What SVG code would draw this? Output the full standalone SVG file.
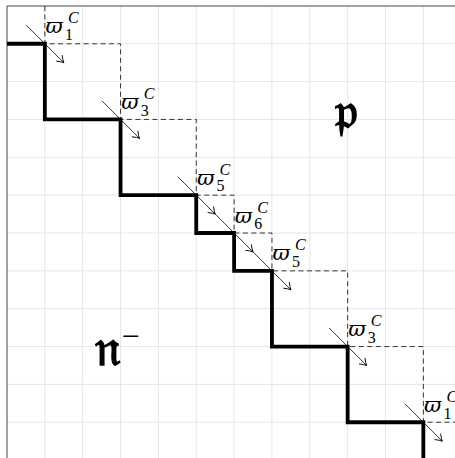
<svg xmlns="http://www.w3.org/2000/svg" width="455" height="458" viewBox="0 0 455 458">
<defs>
<marker id="ah" markerUnits="userSpaceOnUse" markerWidth="12" markerHeight="12" refX="0" refY="0" viewBox="-8 -6 10 12" orient="auto" overflow="visible">
<path d="M-6.5,-4.2 Q-2.5,-1 0,0 Q-2.5,1 -6.5,4.2" fill="none" stroke="#000" stroke-width="0.9"/>
</marker>
</defs>
<style>
.grid line{stroke:#e6e6e6;stroke-width:1}
.frame{stroke:#444;stroke-width:1;fill:none}
.stair{stroke:#000;stroke-width:3.8;fill:none;stroke-linejoin:miter}
.dash{stroke:#222;stroke-width:0.9;fill:none;stroke-dasharray:5 3.5}
.arr{stroke:#000;stroke-width:0.8;fill:none;marker-end:url(#ah)}
.v{font-family:"DejaVu Serif","Liberation Serif",serif;font-style:italic;font-size:21px;fill:#000}
.sub{font-family:"Liberation Serif","DejaVu Serif",serif;font-size:16px;fill:#000}
.sup{font-family:"Liberation Serif","DejaVu Serif",serif;font-style:italic;font-size:16px;fill:#000}
.frak{font-family:"DejaVu Serif","Noto Sans","Liberation Serif",serif;font-size:50px;font-weight:bold;fill:#000}
.minus{font-family:"Liberation Serif","DejaVu Serif",serif;font-size:32px;fill:#000}
</style>
<rect width="455" height="458" fill="#fff"/>
<g class="grid">
<line x1="44.85" y1="6" x2="44.85" y2="458"/>
<line x1="82.7" y1="6" x2="82.7" y2="458"/>
<line x1="120.55" y1="6" x2="120.55" y2="458"/>
<line x1="158.4" y1="6" x2="158.4" y2="458"/>
<line x1="196.25" y1="6" x2="196.25" y2="458"/>
<line x1="234.1" y1="6" x2="234.1" y2="458"/>
<line x1="271.95" y1="6" x2="271.95" y2="458"/>
<line x1="309.8" y1="6" x2="309.8" y2="458"/>
<line x1="347.65" y1="6" x2="347.65" y2="458"/>
<line x1="385.5" y1="6" x2="385.5" y2="458"/>
<line x1="423.35" y1="6" x2="423.35" y2="458"/>
<line x1="7" y1="43.75" x2="455" y2="43.75"/>
<line x1="7" y1="81.6" x2="455" y2="81.6"/>
<line x1="7" y1="119.45" x2="455" y2="119.45"/>
<line x1="7" y1="157.3" x2="455" y2="157.3"/>
<line x1="7" y1="195.15" x2="455" y2="195.15"/>
<line x1="7" y1="233" x2="455" y2="233"/>
<line x1="7" y1="270.85" x2="455" y2="270.85"/>
<line x1="7" y1="308.7" x2="455" y2="308.7"/>
<line x1="7" y1="346.55" x2="455" y2="346.55"/>
<line x1="7" y1="384.4" x2="455" y2="384.4"/>
<line x1="7" y1="422.25" x2="455" y2="422.25"/>
</g>
<path class="frame" d="M7,458 V6 H455"/>
<g id="connectors">
<path class="dash" d="M44.85,6 V43.75 H120.55 V119.45 H196.25 V195.15 H234.1 V233 H271.95 V270.85 H347.65 V346.55 H423.35 V422.25 H455"/>
<path class="stair" d="M7,43.75 H44.85 V119.45 H120.55 V195.15 H196.25 V233 H234.1 V270.85 H271.95 V346.55 H347.65 V422.25 H423.35 V458"/>
<line class="arr" x1="26.3" y1="25.2" x2="63.8" y2="62.7"/>
<line class="arr" x1="102" y1="100.9" x2="139.5" y2="138.4"/>
<line class="arr" x1="177.7" y1="176.6" x2="215.2" y2="214.1"/>
<line class="arr" x1="215.2" y1="214.1" x2="253" y2="251.9"/>
<line class="arr" x1="253" y1="251.9" x2="290.9" y2="289.8"/>
<line class="arr" x1="329.1" y1="328" x2="366.6" y2="365.5"/>
<line class="arr" x1="404.8" y1="403.7" x2="442.3" y2="441.2"/>
</g>
<g id="label-w1a"><text class="v" x="45.5" y="33.3">ϖ</text><text class="sub" x="65" y="40">1</text><text class="sup" x="68" y="23.3">C</text></g>
<g id="label-w3a"><text class="v" x="121.2" y="109">ϖ</text><text class="sub" x="140.7" y="115.7">3</text><text class="sup" x="143.7" y="99">C</text></g>
<g id="label-w5a"><text class="v" x="196.9" y="184.7">ϖ</text><text class="sub" x="216.4" y="191.4">5</text><text class="sup" x="219.4" y="174.7">C</text></g>
<g id="label-w6"><text class="v" x="234.7" y="222.5">ϖ</text><text class="sub" x="254.2" y="229.2">6</text><text class="sup" x="257.2" y="212.5">C</text></g>
<g id="label-w5b"><text class="v" x="272.6" y="260.4">ϖ</text><text class="sub" x="292.1" y="267.1">5</text><text class="sup" x="295.1" y="250.4">C</text></g>
<g id="label-w3b"><text class="v" x="348.3" y="336.1">ϖ</text><text class="sub" x="367.8" y="342.8">3</text><text class="sup" x="370.8" y="326.1">C</text></g>
<g id="label-w1b"><text class="v" x="424" y="411.8">ϖ</text><text class="sub" x="443.5" y="418.5">1</text><text class="sup" x="446.5" y="401.8">C</text></g>
<g id="label-p"><text class="frak" x="346" y="128" text-anchor="middle">𝔭</text></g>
<g id="label-n"><text class="frak" x="95" y="365">𝔫</text><text class="minus" x="121.5" y="346.7">−</text></g>
</svg>
